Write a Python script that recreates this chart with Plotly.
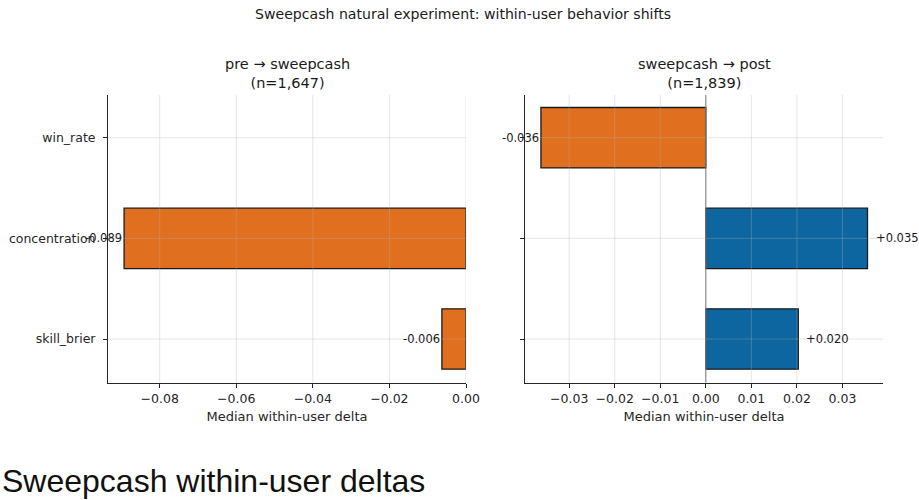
import plotly.graph_objects as go

# ---- data ----
metrics = ["win_rate", "concentration", "skill_brier"]
pre_to_sweep = [None, -0.0893, -0.0063]
sweep_to_post = [-0.0362, 0.0355, 0.0203]
panel_titles = ["pre → sweepcash", "sweepcash → post"]
panel_ns = ["(n=1,647)", "(n=1,839)"]
left_ticks = [-0.08, -0.06, -0.04, -0.02, 0.00]
right_ticks = [-0.03, -0.02, -0.01, 0.00, 0.01, 0.02, 0.03]
suptitle = "Sweepcash natural experiment: within-user behavior shifts"
page_title = "Sweepcash within-user deltas"
xlabel = "Median within-user delta"

ORANGE = "#e07020"
BLUE = "#0e66a0"
FONT = "DejaVu Sans"
INK = "#262626"
W, H = 919, 500

def color(v):
    return ORANGE if (v is not None and v < 0) else BLUE

fig = go.Figure()

panels = [
    (pre_to_sweep, "x", "y", left_ticks, [-0.0935, 0.0], [108 / W, 466 / W]),
    (sweep_to_post, "x2", "y2", right_ticks, [-0.0397, 0.0389], [525 / W, 883 / W]),
]
ydom = [1 - 382.7 / H, 1 - 95 / H]

for i, (vals, xa, ya, ticks, xr, xdom) in enumerate(panels):
    fig.add_trace(go.Bar(
        x=vals, y=metrics, orientation="h", xaxis=xa, yaxis=ya, width=0.6,
        marker=dict(color=[color(v) for v in vals], line=dict(color="#1a1a1a", width=1.3)),
        showlegend=False, hoverinfo="x+y",
    ))
    sfx = "" if i == 0 else "2"
    fig.update_layout(**{
        "xaxis" + sfx: dict(
            domain=xdom, range=xr, tickvals=ticks, tickformat=".2f",
            showgrid=False, zeroline=False, showline=True, linecolor=INK, linewidth=1,
            ticks="outside", ticklen=4, tickcolor=INK, automargin=False,
            tickfont=dict(family=FONT, size=12.5, color=INK),
            title=dict(text=xlabel, font=dict(family=FONT, size=13, color=INK), standoff=7),
            anchor=ya, fixedrange=True,
        ),
        "yaxis" + sfx: dict(
            domain=ydom, type="category", categoryorder="array", categoryarray=metrics,
            range=[2.434, -0.424], showgrid=False, zeroline=False,
            showline=True, linecolor=INK, linewidth=1, automargin=False,
            ticks="outside", ticklen=4, tickcolor=INK, ticklabelstandoff=5,
            showticklabels=(i == 0),
            tickfont=dict(family=FONT, size=12.5, color=INK),
            anchor=xa, fixedrange=True,
        ),
    })
    # gridlines drawn above bars (semi-transparent), as in the reference
    for t in ticks:
        fig.add_shape(type="line", xref=xa, yref=ya + " domain", x0=t, x1=t, y0=0, y1=1,
                      line=dict(color="rgba(176,176,176,0.32)", width=1), layer="above")
    for m in metrics:
        fig.add_shape(type="line", xref=xa + " domain", yref=ya, x0=0, x1=1, y0=m, y1=m,
                      line=dict(color="rgba(176,176,176,0.32)", width=1), layer="above")
    # value labels
    for m, v in zip(metrics, vals):
        if v is None:
            continue
        fig.add_annotation(
            x=v, y=m, xref=xa, yref=ya, text=f"{v:+.3f}", showarrow=False,
            xanchor="right" if v < 0 else "left", xshift=0 if v < 0 else 6,
            font=dict(family=FONT, size=11.5, color="#1a1a1a"),
        )
    # subplot title (two lines)
    cx = (xdom[0] + xdom[1]) / 2
    fig.add_annotation(
        x=cx, y=1 - 73.7 / H, xref="paper", yref="paper",
        text=panel_titles[i] + "<br>" + panel_ns[i],
        showarrow=False, yanchor="middle", xanchor="center", align="center",
        font=dict(family=FONT, size=14.5, color="#1a1a1a"),
    )

# zero line in right panel
fig.add_shape(type="line", xref="x2", yref="y2 domain", x0=0, x1=0, y0=0, y1=1,
              line=dict(color="#7a7a7a", width=1), layer="above")

fig.add_annotation(
    x=463 / W, y=1 - 14 / H, xref="paper", yref="paper", text=suptitle, showarrow=False,
    xanchor="center", yanchor="middle", font=dict(family=FONT, size=14.1, color="#1a1a1a"),
)
fig.add_annotation(
    x=0, y=1 - 481 / H, xref="paper", yref="paper", text=page_title, showarrow=False,
    xanchor="left", yanchor="middle",
    font=dict(family="Liberation Sans, Arial", size=32, color="#111111"),
)

fig.update_layout(
    width=W, height=H, margin=dict(l=0, r=0, t=0, b=0, autoexpand=False),
    paper_bgcolor="white", plot_bgcolor="white", bargap=0.4,
)

fig.write_html(
    "out.html",
    config={"displayModeBar": False},
    post_script="document.body.style.margin='0';document.body.style.overflow='hidden';",
)
